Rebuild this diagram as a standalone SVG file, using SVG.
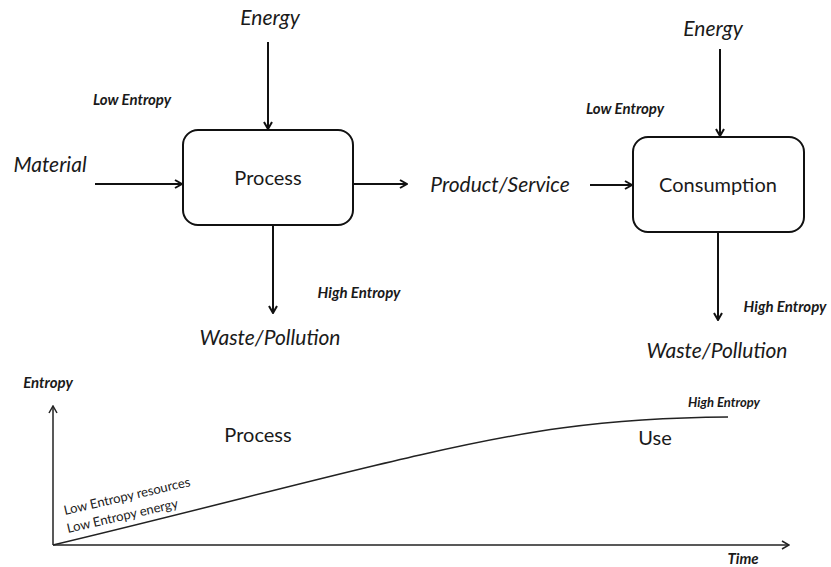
<svg xmlns="http://www.w3.org/2000/svg" width="831" height="567" viewBox="0 0 831 567">
<defs>
<marker id="ah" viewBox="0 0 10 10" refX="9" refY="5" markerWidth="10" markerHeight="10" markerUnits="userSpaceOnUse" orient="auto">
<path d="M2,1 L9,5 L2,9" fill="none" stroke="#111" stroke-width="2"/>
</marker>
<marker id="ah2" viewBox="0 0 10 10" refX="9" refY="5" markerWidth="10" markerHeight="10" markerUnits="userSpaceOnUse" orient="auto">
<path d="M2,1 L9,5 L2,9" fill="none" stroke="#222" stroke-width="1.5"/>
</marker>
</defs>
<style>
text{font-family:Lato,"Open Sans","Liberation Sans",sans-serif;fill:#1a1a1a}
.it{font-style:italic}
.big{font-size:21px}
.nm{font-size:20px}
.sm{font-size:15px;font-weight:bold}
.box{fill:#fff;stroke:#111;stroke-width:2}
.c{stroke:#111;stroke-width:2;fill:none;marker-end:url(#ah)}
.ax{stroke:#222;stroke-width:1.5;fill:none;marker-end:url(#ah2)}
</style>
<rect width="831" height="567" fill="#fff"/>
<g id="process">
<rect class="box" x="183" y="130" width="170" height="95" rx="15"/>
<text class="nm" x="268" y="185" text-anchor="middle">Process</text>
</g>
<g id="consumption">
<rect class="box" x="633" y="137" width="171" height="95" rx="15"/>
<text class="nm" x="718" y="192" text-anchor="middle">Consumption</text>
</g>
<g id="labels">
<text class="big it" x="270" y="25" text-anchor="middle">Energy</text>
<text class="sm it" x="132" y="105" text-anchor="middle">Low Entropy</text>
<text class="big it" x="50" y="172" text-anchor="middle">Material</text>
<text class="sm it" x="359" y="298" text-anchor="middle">High Entropy</text>
<text class="big it" x="270" y="345" text-anchor="middle">Waste/Pollution</text>
<text class="big it" x="500" y="192" text-anchor="middle">Product/Service</text>
<text class="big it" x="713" y="36" text-anchor="middle">Energy</text>
<text class="sm it" x="625" y="114" text-anchor="middle">Low Entropy</text>
<text class="sm it" x="785" y="312" text-anchor="middle">High Entropy</text>
<text class="big it" x="717" y="358" text-anchor="middle">Waste/Pollution</text>
</g>
<g id="connectors">
<line class="c" x1="268" y1="42" x2="268" y2="129"/>
<line class="c" x1="95" y1="184" x2="182" y2="184"/>
<line class="c" x1="353" y1="184" x2="407" y2="184"/>
<line class="c" x1="273" y1="225" x2="273" y2="313"/>
<line class="c" x1="720" y1="49" x2="720" y2="136"/>
<line class="c" x1="590" y1="185" x2="632" y2="185"/>
<line class="c" x1="718" y1="232" x2="718" y2="320"/>
</g>
<g id="chart">
<line class="ax" x1="53" y1="545" x2="53" y2="406"/>
<line class="ax" x1="53" y1="545" x2="789" y2="545"/>
<path d="M53,545 C200,510 330,475 420,455 C520,432 600,418 728,417" fill="none" stroke="#222" stroke-width="1.5"/>
<text class="sm it" x="48" y="388" text-anchor="middle">Entropy</text>
<text class="nm" x="258" y="442" text-anchor="middle">Process</text>
<text class="nm" x="655" y="445" text-anchor="middle">Use</text>
<text class="it" style="font-size:13px;font-weight:bold" x="724" y="407" text-anchor="middle">High Entropy</text>
<text class="sm it" x="743" y="564" text-anchor="middle">Time</text>
<text style="font-size:13px" transform="translate(65,515) rotate(-13)">Low Entropy resources</text>
<text style="font-size:13px" transform="translate(68,533) rotate(-13)">Low Entropy energy</text>
</g>
</svg>
